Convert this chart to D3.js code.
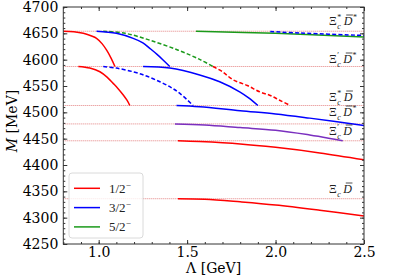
<!DOCTYPE html>
<html><head><meta charset="utf-8">
<script src="https://cdn.jsdelivr.net/npm/d3@7"></script>
<style>body{margin:0;background:#fff}svg{display:block}</style>
</head><body><svg id="c" width="397" height="278"></svg>
<script>
// ---- data ----
const xTicks = [1.0, 1.5, 2.0, 2.5];
const yTicks = [4250, 4300, 4350, 4400, 4450, 4500, 4550, 4600, 4650, 4700];
const thresholds = [4654, 4587, 4513, 4478, 4446, 4336];
const thresholdNames = ["Ξc*D*", "Ξc'D*", "Ξc*D", "ΞcD*", "Ξc'D", "ΞcD"];
const legendNames = ["1/2", "3/2", "5/2"];

// curves: [Λ (GeV), M (MeV)]
const red1 = [[0.80,4654],[0.86,4653],[0.913,4650],[0.96,4645],[0.988,4640.5],[1.02,4630],[1.045,4618],[1.07,4603],[1.092,4587]];
const red2 = [[0.885,4587],[0.95,4584],[1.007,4577],[1.05,4566],[1.082,4555],[1.11,4545],[1.139,4533],[1.16,4523],[1.176,4513]];
const red3 = [[1.646,4587],[1.70,4577],[1.759,4562],[1.84,4551],[1.91,4539],[1.97,4532],[2.023,4523],[2.083,4513]];
const red4 = [[1.448,4446],[1.57,4444.5],[1.8,4440],[2.0,4433.5],[2.25,4423],[2.5,4410]];
const red5 = [[1.448,4336],[1.6,4335],[1.8,4330],[2.0,4324],[2.25,4314],[2.5,4303]];
const blue1 = [[0.988,4654],[1.10,4650],[1.195,4640.5],[1.25,4632],[1.289,4621.5],[1.33,4610],[1.364,4599.5],[1.402,4587]];
const blue2 = [[1.026,4587],[1.10,4584],[1.195,4577],[1.27,4569],[1.346,4558],[1.41,4547],[1.459,4536],[1.534,4513]];
const blue3 = [[1.251,4587],[1.402,4584],[1.571,4571],[1.684,4558],[1.797,4539],[1.85,4527],[1.90,4513]];
const blue4 = [[1.44,4513],[1.571,4510.7],[1.8,4503],[2.0,4497],[2.193,4489],[2.5,4475]];
const blue5 = [[1.97,4653.5],[2.14,4650.5],[2.5,4646]];
const green1 = [[1.026,4654],[1.15,4650],[1.289,4637],[1.45,4618],[1.571,4600.5],[1.646,4587]];
const green2 = [[1.55,4654],[2.0,4650],[2.5,4643]];
const purple1 = [[1.431,4478],[1.6,4476],[1.8,4471],[2.0,4466],[2.193,4457],[2.30,4451],[2.38,4446]];

const series = [
  {pts: red1, color: "#ff0000", dash: null},
  {pts: red2, color: "#ff0000", dash: null},
  {pts: red3, color: "#ff0000", dash: "4,2.2"},
  {pts: red4, color: "#ff0000", dash: null},
  {pts: red5, color: "#ff0000", dash: null},
  {pts: green1, color: "#1a9a1a", dash: "4,2.2"},
  {pts: green2, color: "#1a9a1a", dash: null},
  {pts: blue1, color: "#0000ff", dash: null},
  {pts: blue2, color: "#0000ff", dash: "4,2.2"},
  {pts: blue3, color: "#0000ff", dash: null},
  {pts: blue4, color: "#0000ff", dash: null},
  {pts: blue5, color: "#0000ff", dash: "4,2.2"},
  {pts: purple1, color: "#7a2fbf", dash: null}
];
const legendColors = ["#ff0000", "#0000ff", "#1a9a1a"];

// ---- layout ----
const svg = d3.select("#c");
const L = 63.3, R = 364, T = 7, B = 244;
const x = d3.scaleLinear().domain([0.8, 2.5]).range([L, R]);
const y = d3.scaleLinear().domain([4250, 4700]).range([B, T]);

svg.append("defs").append("clipPath").attr("id","clip").append("rect")
  .attr("x",L).attr("y",T).attr("width",R-L).attr("height",B-T);

const g = svg.append("g").attr("clip-path","url(#clip)");
g.selectAll("line.th").data(thresholds).join("line")
  .attr("x1", x(0.8)).attr("x2", x(2.5))
  .attr("y1", d => y(d)).attr("y2", d => y(d))
  .attr("stroke", "#d84848").attr("stroke-width", 0.8).attr("stroke-dasharray", "1,1").attr("opacity", 0.85);

const line = d3.line().x(d => x(d[0])).y(d => y(d[1])).curve(d3.curveCatmullRom.alpha(0.5));
g.selectAll("path.s").data(series).join("path")
  .attr("d", d => line(d.pts)).attr("fill", "none")
  .attr("stroke", d => d.color).attr("stroke-width", 1.5)
  .attr("stroke-dasharray", d => d.dash);

// axes
const font = "DejaVu Serif";
function styleAxis(sel){ sel.select(".domain").remove(); sel.selectAll("line").attr("stroke","#333"); }
const xMinor = d3.range(0.8, 2.51, 0.1).map(v => +v.toFixed(2));
const yMinor = d3.range(4250, 4701, 10);
svg.append("g").attr("transform",`translate(0,${B})`)
  .call(d3.axisBottom(x).tickValues(xMinor).tickSize(-2).tickFormat("")).call(styleAxis);
svg.append("g").attr("transform",`translate(0,${B})`)
  .call(d3.axisBottom(x).tickValues(xTicks).tickSize(-4).tickPadding(3).tickFormat(d3.format(".1f"))).call(styleAxis)
  .selectAll("text").attr("font-family",font).attr("font-size",14).attr("fill","#000");
svg.append("g").attr("transform",`translate(0,${T})`)
  .call(d3.axisTop(x).tickValues(xMinor).tickSize(-2).tickFormat("")).call(styleAxis);
svg.append("g").attr("transform",`translate(0,${T})`)
  .call(d3.axisTop(x).tickValues(xTicks).tickSize(-4).tickFormat("")).call(styleAxis);
svg.append("g").attr("transform",`translate(${L},0)`)
  .call(d3.axisLeft(y).tickValues(yMinor).tickSize(-2).tickFormat("")).call(styleAxis);
svg.append("g").attr("transform",`translate(${L},0)`)
  .call(d3.axisLeft(y).tickValues(yTicks).tickSize(-4).tickPadding(5).tickFormat(d3.format("d"))).call(styleAxis)
  .selectAll("text").attr("font-family",font).attr("font-size",14).attr("fill","#000");
svg.append("g").attr("transform",`translate(${R},0)`)
  .call(d3.axisRight(y).tickValues(yMinor).tickSize(-2).tickFormat("")).call(styleAxis);
svg.append("g").attr("transform",`translate(${R},0)`)
  .call(d3.axisRight(y).tickValues(yTicks).tickSize(-4).tickFormat("")).call(styleAxis);

svg.append("rect").attr("x",L).attr("y",T).attr("width",R-L).attr("height",B-T)
  .attr("fill","none").attr("stroke","#333").attr("stroke-width",1);

// axis labels
const xl = svg.append("text").attr("x",(L+R)/2).attr("y",273).attr("text-anchor","middle")
  .attr("font-family",font).attr("font-size",14);
xl.append("tspan").text("Λ [GeV]");
const yl = svg.append("text").attr("transform",`translate(17,121) rotate(-90)`).attr("text-anchor","middle")
  .attr("font-family",font).attr("font-size",14);
yl.append("tspan").attr("font-style","italic").text("M");
yl.append("tspan").text(" [MeV]");

// threshold labels (single text element each, tspans for sub/superscripts)
const mf = "Liberation Serif";
function mathLabel(name, x0, yb){
  const star1 = name[2] === "*", prime1 = name[2] === "'";
  const starD = name.endsWith("*");
  const grp = svg.append("g").attr("font-family", mf).attr("fill","#222");
  const t = grp.append("text").attr("x", x0).attr("y", yb).attr("font-size", 12);
  t.append("tspan").text("Ξ");
  const c = t.append("tspan").attr("dx", 0.5).attr("dy", 3.5).attr("font-size", 8).attr("font-style","italic").text("c");
  const cw = c.node().getComputedTextLength();
  let d;
  if (star1 || prime1){
    const s = t.append("tspan").attr("dx", -cw).attr("dy", -9).attr("font-size", 8).text(star1 ? "*" : "′");
    const sw = s.node().getComputedTextLength();
    d = t.append("tspan").attr("dx", 2.5 + Math.max(0, cw - sw)).attr("dy", 5.5).attr("font-style","italic").text("D");
  } else {
    d = t.append("tspan").attr("dx", 2.5).attr("dy", -3.5).attr("font-style","italic").text("D");
  }
  if (starD) t.append("tspan").attr("dx", 0.5).attr("dy", -5).attr("font-size", 8).text("*");
  const n = d.node();
  const start = n.getStartPositionOfChar(0), end = n.getEndPositionOfChar(0);
  grp.append("line").attr("x1", start.x + 2.5).attr("x2", end.x + 0.5)
    .attr("y1", yb - 10).attr("y2", yb - 10).attr("stroke","#222").attr("stroke-width",0.8);
}
const labelBase = [25, 63, 101, 116, 135, 193];
thresholdNames.forEach((n,i) => mathLabel(n, 329, labelBase[i]));

// legend
const lg = svg.append("g");
lg.append("rect").attr("x",69).attr("y",173).attr("width",74).attr("height",65).attr("rx",3)
  .attr("fill","#fff").attr("fill-opacity",0.8).attr("stroke","#d0d0d0").attr("stroke-width",0.8);
legendNames.forEach((n,i) => {
  const yy = 188.3 + i*19.3;
  lg.append("line").attr("x1",74).attr("x2",100).attr("y1",yy).attr("y2",yy)
    .attr("stroke",legendColors[i]).attr("stroke-width",1.5);
  const t = lg.append("text").attr("x",109).attr("y",yy+4.5).attr("font-family",mf).attr("font-size",13).attr("fill","#222");
  t.append("tspan").text(n);
  t.append("tspan").attr("dy",-5).attr("font-size",9).text("−");
});
</script></body></html>
